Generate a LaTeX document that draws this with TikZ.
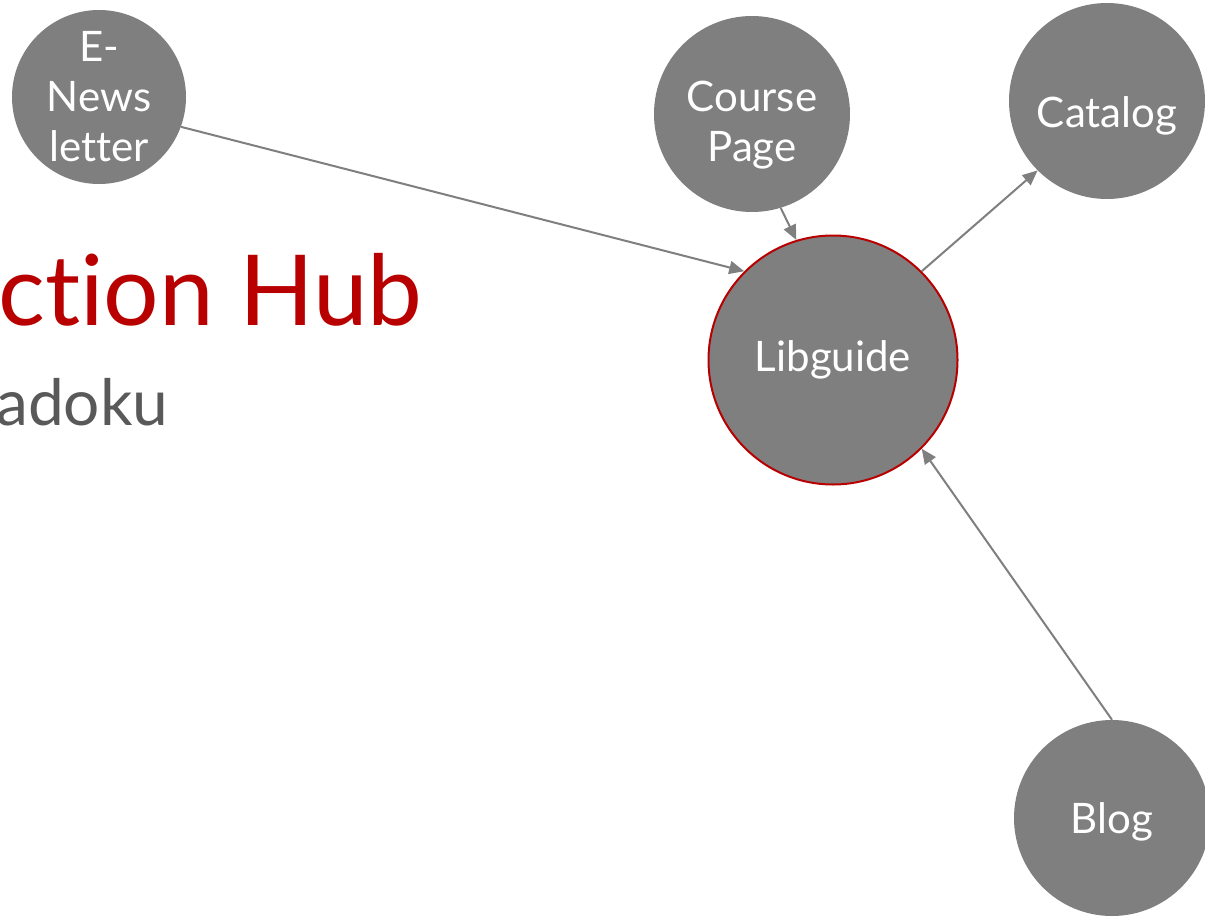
\documentclass[tikz,border=0pt]{standalone}
\usepackage{fontspec}
\setmainfont{Lato}[Ligatures=NoCommon]
\usetikzlibrary{arrows.meta}
\definecolor{hubgray}{HTML}{7F7F7F}
\definecolor{hubred}{HTML}{B80000}
\definecolor{subgray}{HTML}{595959}

\begin{document}
\begin{tikzpicture}[x=1pt, y=-1pt,
        site/.style={circle, fill=hubgray, inner sep=0pt, text=white, align=center,
            font=\fontsize{42}{50}\selectfont},
        sitetext/.style={text=white, align=center, font=\fontsize{42}{50}\selectfont},
        link/.style={draw=hubgray, line width=2pt, -{Triangle[length=15pt, width=13pt]}}]
        \useasboundingbox (0, 0) rectangle (1205, 918);
        \node[anchor=base west, inner sep=0pt, text=hubred, font=\fontsize{98}{120}\selectfont] (title) at (-2, 325) {ction Hub};
        \node[anchor=base west, inner sep=0pt, text=subgray, font=\fontsize{64}{80}\selectfont] (sub) at (-4, 425) {adoku};
        \node[site, minimum size=174pt] (news) at (99, 97) {E-\\News\\letter};
        \node[site, minimum size=196pt, label={[sitetext, yshift=-11pt]center:Course\\Page}] (course) at (752, 114) {};
        \node[site, minimum size=196pt, label={[sitetext, yshift=-15pt]center:Catalog}] (catalog) at (1107, 101) {};
        \node[site, minimum size=249pt, draw=hubred, line width=2pt] (lib) at (833, 360) {Libguide};
        \node[site, minimum size=196pt, label={[sitetext, yshift=-4pt]center:Blog}] (blog) at (1112, 818) {};
        \draw[link] (news.-20) -- (lib.135);
        \draw[link] (course.-73) -- (lib.107);
        \draw[link] (lib.45) -- (catalog.225);
        \draw[link] (blog.90) -- (lib.-45);
     \end{tikzpicture}
\end{document}
